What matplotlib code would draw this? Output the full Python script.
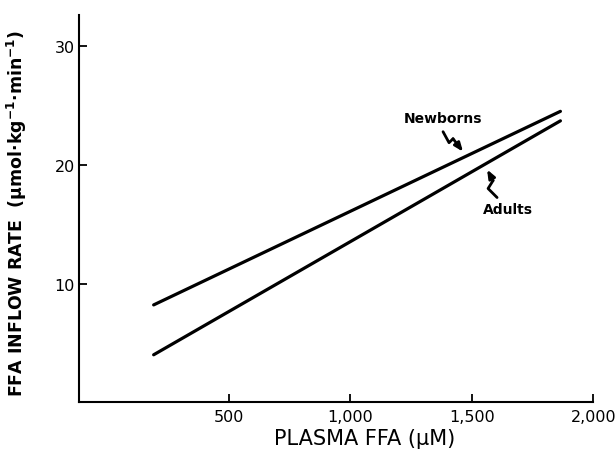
"""FFA inflow rate vs plasma FFA: newborns vs adults regression lines
"""
import matplotlib
matplotlib.use("Agg")
import matplotlib.pyplot as plt
import matplotlib.transforms as mtransforms

# data
newborn_x = [190, 1865]
newborn_y = [8.2, 24.5]
adult_x = [190, 1865]
adult_y = [4.0, 23.7]

x_ticks = [500, 1000, 1500, 2000]
x_tick_labels = ["500", "1,000", "1,500", "2,000"]
y_ticks = [10, 20, 30]
y_tick_labels = ["10", "20", "30"]

plt.rcParams['font.family'] = ['DejaVu Sans']

fig = plt.figure(figsize=(6.16, 4.56), dpi=100)
ax = fig.add_axes([0.128, 0.1156, 0.835, 0.849])

ax.plot(newborn_x, newborn_y, color='black', lw=2.3, solid_capstyle='round')
ax.plot(adult_x, adult_y, color='black', lw=2.3, solid_capstyle='round')

ax.set_xlim(-118, 2000)
ax.set_ylim(0, 32.6)

ax.spines['top'].set_visible(False)
ax.spines['right'].set_visible(False)
for s in ('left', 'bottom'):
    ax.spines[s].set_linewidth(1.5)

ax.set_xticks(x_ticks)
ax.set_xticklabels(x_tick_labels)
ax.set_yticks(y_ticks)
ax.set_yticklabels(y_tick_labels)
ax.tick_params(direction='in', length=6, width=1.3, labelsize=11.5)
ax.tick_params(axis='x', pad=5)
ax.tick_params(axis='y', pad=3)

ax.set_xlabel("PLASMA FFA (μM)", fontsize=15)
ax.xaxis.set_label_coords(0.556, -0.066)
ax.set_ylabel("FFA INFLOW RATE  (μmol·kg$^{\\mathbf{-1}}$·min$^{\\mathbf{-1}}$)",
              fontsize=12.5, fontweight='bold')
ax.yaxis.set_label_coords(-0.097, 0.49)


def squiggle(ax, tip, pts_px):
    """draw a little zigzag arrow ending at tip (data), points given in px offsets"""
    px2pt = 72.0 / fig.dpi
    trans = mtransforms.ScaledTranslation(tip[0], tip[1], ax.transData)
    off = fig.dpi_scale_trans
    xs = [p[0] * px2pt / 72.0 for p in pts_px]
    ys = [p[1] * px2pt / 72.0 for p in pts_px]
    ax.plot(xs[:-1], ys[:-1], color='black', lw=2.0, transform=off + trans,
            clip_on=False, solid_joinstyle='round', solid_capstyle='round')
    ax.annotate('', xy=tip, xytext=(pts_px[-2][0] * px2pt, pts_px[-2][1] * px2pt),
                textcoords='offset points',
                arrowprops=dict(arrowstyle='-|>,head_length=0.5,head_width=0.2',
                                color='black', lw=2.0, shrinkA=0, shrinkB=0))


ax.text(1381, 23.9, "Newborns", ha='center', va='center', fontsize=10,
        fontweight='bold')
ax.text(1649, 16.3, "Adults", ha='center', va='center', fontsize=10,
        fontweight='bold')

squiggle(ax, (1464, 21.1), [(-20, 20), (-14, 9), (-10, 13), (0, 0)])
squiggle(ax, (1563, 19.6), [(10, -28), (1, -19), (6, -11), (0, 0)])

fig.savefig("out.png", dpi=100)
